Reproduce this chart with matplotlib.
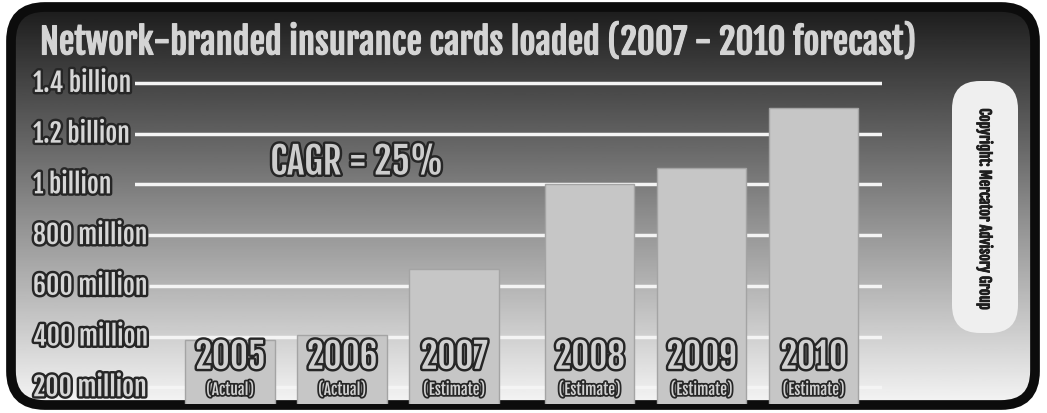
"""
Network-branded insurance cards loaded, 2005-2010 bar chart.
"""

import numpy as np
import matplotlib
matplotlib.use('Agg')
import matplotlib.pyplot as plt
from matplotlib.patches import FancyBboxPatch
import matplotlib.patheffects as pe

years = ['2005', '2006', '2007', '2008', '2009', '2010']
status = ['(Actual)', '(Actual)', '(Estimate)', '(Estimate)', '(Estimate)', '(Estimate)']
cards_m = [385, 405, 665, 1000, 1065, 1300]          # millions of cards
tick_vals = [200, 400, 600, 800, 1000, 1200, 1400]
tick_labels = ['200 million', '400 million', '600 million', '800 million',
               '1 billion', '1.2 billion', '1.4 billion']
title = 'Network-branded insurance cards loaded (2007 - 2010 forecast)'
cagr_note = 'CAGR = 25%'
credit = 'Copyright: Mercator Advisory Group'

W, H = 1047, 414
FONT = ['Fjalla One', 'Oswald', 'DejaVu Sans']
outline = [pe.withStroke(linewidth=3.5, foreground='#262626')]
thin_outline = [pe.withStroke(linewidth=2.5, foreground='#262626')]

fig = plt.figure(figsize=(W / 100, H / 100), dpi=100)
fig.patch.set_facecolor('white')

# background: rounded black frame filled with a vertical gray gradient
bg = fig.add_axes([0, 0, 1, 1])
bg.set_xlim(0, W)
bg.set_ylim(H, 0)
bg.axis('off')
frame = FancyBboxPatch((11, 8), W - 23, H - 16,
                       boxstyle='round,pad=0,rounding_size=34',
                       fc='none', ec='#0c0c0c', lw=7, zorder=3)
bg.add_patch(frame)
grad = np.linspace(0.11, 0.96, 256).reshape(-1, 1)
img = bg.imshow(grad, cmap='gray', vmin=0, vmax=1, aspect='auto',
                extent=(10, W - 12, H - 8, 8), zorder=1)
img.set_clip_path(frame)

bg.text(40, 44, title, color='#d4d4d4', fontsize=25, family=FONT,
        va='center', ha='left', zorder=4,
        path_effects=[pe.withStroke(linewidth=0.8, foreground='#d4d4d4')])

# copyright tab on the right
tab = FancyBboxPatch((952, 82), 66, 252, boxstyle='round,pad=0,rounding_size=28',
                     fc='#efefef', ec='none', zorder=2)
bg.add_patch(tab)
bg.text(985, 210, credit, rotation=270, color='#1e1e1e', fontsize=10.5,
        family=FONT, ha='center', va='center', zorder=4,
        path_effects=[pe.withStroke(linewidth=0.6, foreground='#1e1e1e')])

# bar chart
ax = fig.add_axes([135 / W, 9 / H, (882 - 135) / W, (405 - 70) / H])
ax.patch.set_alpha(0)
x_lo, x_hi = -0.85, 5.82
ax.set_xlim(x_lo, x_hi)
ax.set_ylim(134, 1455)
ax.axis('off')

pos = np.arange(len(years)) + 0.21 * (np.arange(len(years)) >= 3)
ax.bar(pos, cards_m, width=0.8, bottom=0, color='#c6c6c6',
       edgecolor='#a4a4a4', lw=1, zorder=3)

for x, yr, st in zip(pos, years, status):
    ax.text(x, 318, yr, ha='center', va='center', fontsize=25,
            family=FONT, color='#d0d0d0', path_effects=outline, zorder=5)
    ax.text(x, 190, st, ha='center', va='center', fontsize=11,
            family=FONT, color='#d0d0d0', path_effects=thin_outline, zorder=5)

ax.text(1.13, 1088, cagr_note, ha='center', va='center', fontsize=26.5,
        family=FONT, color='#cdcdcd', path_effects=outline, zorder=5)

# y labels sit at the left edge; each gridline starts where its label ends
labels = []
for v, lab in zip(tick_vals, tick_labels):
    t = ax.text((33 - 135) / (882 - 135), v, lab, ha='left', va='center',
                fontsize=18.5, family=FONT, color='#d6d6d6', path_effects=outline,
                zorder=5, transform=ax.get_yaxis_transform(), clip_on=False)
    labels.append(t)

fig.canvas.draw()
inv = ax.transData.inverted()
for v, t in zip(tick_vals, labels):
    right_px = t.get_window_extent().x1 + 1
    x_start = inv.transform((right_px, 0))[0]
    ax.hlines(v, x_start, x_hi, color='#f4f4f4', lw=2.5, zorder=1)

fig.savefig('out.png', dpi=100)
